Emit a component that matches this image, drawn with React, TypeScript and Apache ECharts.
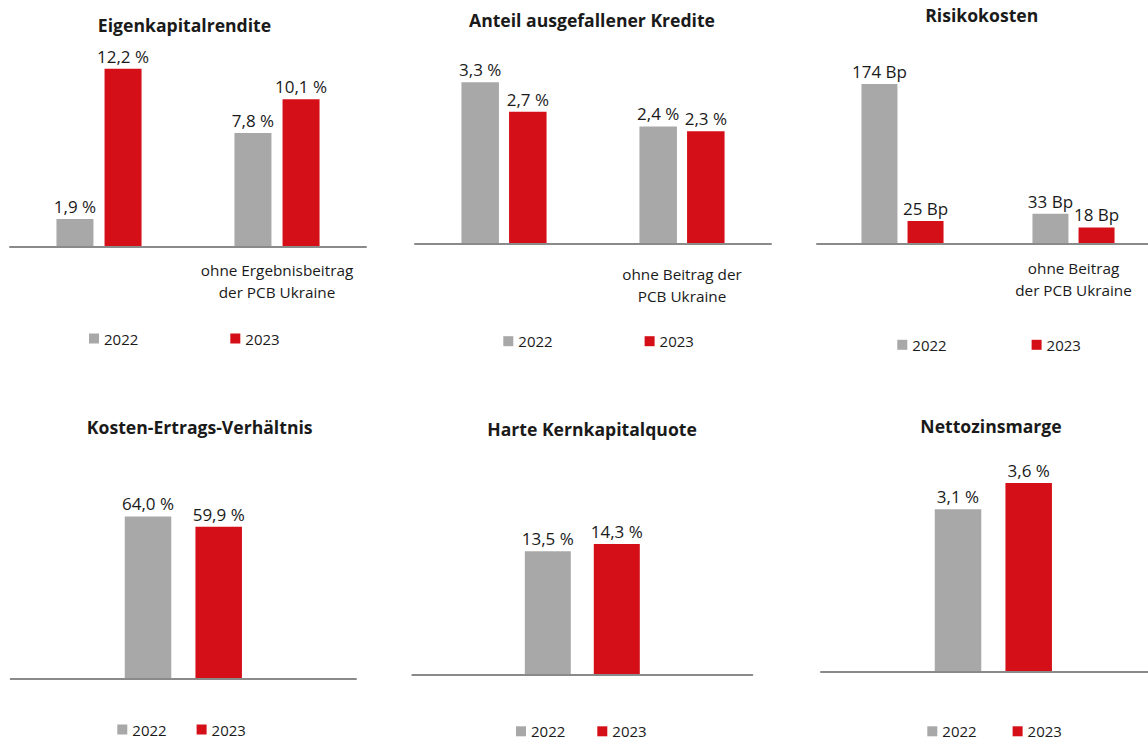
import React, { useEffect, useRef } from "react";
import * as echarts from "echarts";

// ---- Data ----
const years = ["2022", "2023"];
const titles = [
  "Eigenkapitalrendite",
  "Anteil ausgefallener Kredite",
  "Risikokosten",
  "Kosten-Ertrags-Verhältnis",
  "Harte Kernkapitalquote",
  "Nettozinsmarge",
];
const renditeCats = ["", "ohne Ergebnisbeitrag\nder PCB Ukraine"];
const rendite2022 = [1.9, 7.8];
const rendite2023 = [12.2, 10.1];
const krediteCats = ["", "ohne Beitrag der\nPCB Ukraine"];
const kredite2022 = [3.3, 2.4];
const kredite2023 = [2.7, 2.3];
const risikoCats = ["", "ohne Beitrag\nder PCB Ukraine"];
const risiko2022 = [174, 33];
const risiko2023 = [25, 18];
const singleCat = [""];
const cir2022 = [64.0];
const cir2023 = [59.9];
const cet2022 = [13.5];
const cet2023 = [14.3];
const nim2022 = [3.1];
const nim2023 = [3.6];

const panelData = [
  { cats: renditeCats, a: rendite2022, b: rendite2023, unit: "pct" },
  { cats: krediteCats, a: kredite2022, b: kredite2023, unit: "pct" },
  { cats: risikoCats, a: risiko2022, b: risiko2023, unit: "bp" },
  { cats: singleCat, a: cir2022, b: cir2023, unit: "pct" },
  { cats: singleCat, a: cet2022, b: cet2023, unit: "pct" },
  { cats: singleCat, a: nim2022, b: nim2023, unit: "pct" },
];

// ---- Layout / style ----
const GRAY = "#a8a8a8";
const RED = "#d40f18";
const TEXT = "#1a1a1a";
const FONT = "'Open Sans', sans-serif";
const CANVAS_W = 1180;

const layout = [
  { left: 10, top: 57, width: 356, height: 189.8, max: 13, barWidth: 37, barGap: "30%", labelMargin: 12, tx: 184.5, ty: 25, lx: 89, ly: 338, lg: 92 },
  { left: 415, top: 72.5, width: 356, height: 171.5, max: 3.5, barWidth: 37.5, barGap: "27%", labelMargin: 19, tx: 592, ty: 20, lx: 503.3, ly: 340.7, lg: 92 },
  { left: 817, top: 60, width: 342, height: 184, max: 200, barWidth: 36, barGap: "28%", labelMargin: 13, tx: 981.7, ty: 15, lx: 897.3, ly: 344.3, lg: 85 },
  { left: 10.7, top: 501.2, width: 345.3, height: 177.5, max: 70, barWidth: 46.5, barGap: "52%", labelMargin: 12, tx: 199.7, ty: 427, lx: 117.3, ly: 729, lg: 30 },
  { left: 412.3, top: 491.9, width: 340, height: 182.4, max: 20, barWidth: 46, barGap: "50%", labelMargin: 12, tx: 592, ty: 428.8, lx: 516, ly: 730.8, lg: 32 },
  { left: 821, top: 462.1, width: 344.7, height: 209.6, max: 4, barWidth: 46.5, barGap: "52%", labelMargin: 12, tx: 991, ty: 426, lx: 927.3, ly: 730.8, lg: 36 },
];

function fmt(unit: string) {
  return (p: any) => {
    const v = p.value as number;
    if (unit === "bp") return `${v} Bp`;
    return `${v.toFixed(1).replace(".", ",")} %`;
  };
}

export default function App() {
  const ref = useRef<HTMLDivElement>(null);
  useEffect(() => {
    if (!ref.current) return;
    const chart = echarts.init(ref.current, undefined, { renderer: "svg" });
    const TITLE_SIZE = 17.6;
    const option: any = {
      animation: false,
      backgroundColor: "#ffffff",
      textStyle: { fontFamily: FONT },
      title: layout.map((l, i) => ({
        text: titles[i],
        left: l.tx,
        top: l.ty - TITLE_SIZE / 2,
        padding: 0,
        textAlign: "center",
        textStyle: { fontFamily: FONT, fontWeight: "bold", fontSize: TITLE_SIZE, color: TEXT, lineHeight: TITLE_SIZE },
      })),
      legend: layout.map((l) => ({
        data: years,
        left: l.lx,
        top: l.ly - 7,
        padding: 0,
        itemWidth: 10,
        itemHeight: 10,
        itemGap: l.lg,
        icon: "rect",
        selectedMode: false,
        textStyle: { fontFamily: FONT, fontSize: 15, color: TEXT, lineHeight: 14 },
      })),
      grid: layout.map((l) => ({ left: l.left, top: l.top, width: l.width, height: l.height, containLabel: false })),
      xAxis: layout.map((l, i) => ({
        type: "category",
        gridIndex: i,
        data: panelData[i].cats,
        z: 5,
        axisLine: { show: true, lineStyle: { color: "#8a8a8a", width: 2 } },
        axisTick: { show: false },
        axisLabel: {
          show: true,
          interval: 0,
          margin: l.labelMargin,
          fontFamily: FONT,
          fontSize: 15.3,
          lineHeight: 22,
          color: TEXT,
        },
        splitLine: { show: false },
      })),
      yAxis: layout.map((l, i) => ({
        type: "value",
        gridIndex: i,
        min: 0,
        max: l.max,
        show: false,
        splitLine: { show: false },
      })),
      series: panelData.flatMap((d, i) => {
        const l = layout[i];
        const label = {
          show: true,
          position: "top",
          distance: 4,
          fontFamily: FONT,
          fontSize: 17,
          color: TEXT,
          formatter: fmt(d.unit),
        };
        return [
          {
            name: years[0],
            type: "bar",
            xAxisIndex: i,
            yAxisIndex: i,
            data: d.a,
            barWidth: l.barWidth,
            barGap: l.barGap,
            itemStyle: { color: GRAY },
            label,
          },
          {
            name: years[1],
            type: "bar",
            xAxisIndex: i,
            yAxisIndex: i,
            data: d.b,
            barWidth: l.barWidth,
            barGap: l.barGap,
            itemStyle: { color: RED },
            label,
          },
        ];
      }),
      color: [GRAY, RED],
    };
    chart.setOption(option);
    return () => chart.dispose();
  }, []);
  return (
    <div style={{ position: "fixed", left: 0, top: 0, width: 1148, height: 740, overflow: "hidden", background: "#fff" }}>
      <div ref={ref} style={{ width: CANVAS_W, height: 740 }} />
    </div>
  );
}
